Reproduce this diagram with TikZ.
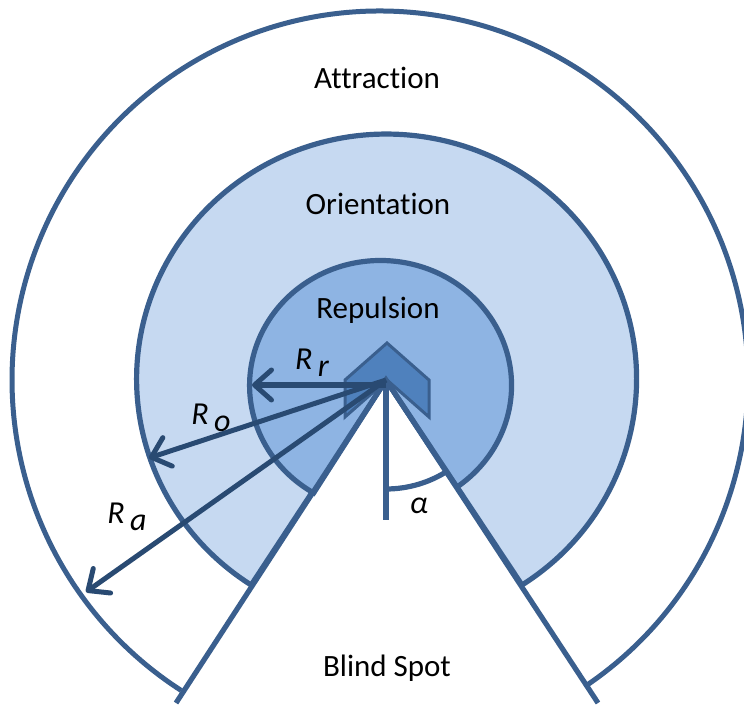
\documentclass[tikz,border=0pt]{standalone}
\usepackage{fontspec}
\setmainfont{Carlito}[Ligatures=NoCommon]
\usetikzlibrary{arrows.meta,calc}
\definecolor{edge}{HTML}{3A5F8E}
\definecolor{dark}{HTML}{294A72}
\definecolor{light}{HTML}{C6D9F1}
\definecolor{mid}{HTML}{8EB4E3}
\definecolor{agent}{HTML}{4F81BD}
\tikzset{
  x=1pt,y=1pt,
  zone/.style={draw=edge,line width=5.2pt},
  ring/.style={draw=edge,line width=5pt},
  radius arrow/.style={draw=dark,line width=5pt,-{Straight Barb[length=17pt,width=30pt,line width=5pt,round]}},
  lab/.style={font=\fontsize{31}{35}\selectfont,text=black,inner sep=0pt},
  sym/.style={font=\fontsize{32}{36}\selectfont\itshape,text=black,inner sep=0pt},
}
\newcommand{\subgap}[2]{#1\,\raisebox{-7pt}{#2}}
\begin{document}
\begin{tikzpicture}
\useasboundingbox (0,0) rectangle (744,705);
\clip (0,0) rectangle (744,705);
\coordinate (c) at (386,325);
% outer ring
\draw[ring] (380,325) ++(-55.7:368 and 369) arc[start angle=-55.7,end angle=237.3,x radius=368,y radius=369];
% orientation sector
\filldraw[zone,fill=light] (c) -- (522,120) arc[start angle=-57.2,end angle=237.2,x radius=250,y radius=245] -- cycle;
% repulsion sector
\filldraw[zone,fill=mid] (c) -- (457,218) arc[start angle=-54.3,end angle=239.3,x radius=131,y radius=125] -- cycle;
% agent chevron
\filldraw[draw=edge,line width=3pt,fill=agent,line join=miter]
  (387,362) -- (429,325) -- (429,288) -- (387,325) -- (345,288) -- (345,325) -- cycle;
% blind spot boundaries
\coordinate (bl) at (176,2);
\coordinate (br) at (598,2);
\draw[zone] (bl) -- (c) -- (br);
% angle marker
\coordinate (vt) at (386,185);
\draw[zone] (c) -- (vt);
\draw[zone] (386,216) arc[start angle=-90,end angle=-57,radius=114];
% radii
\coordinate (cr) at (386,320);
\coordinate (rr) at (252,320);
\coordinate (ro) at (149,247);
\coordinate (ra) at (86,113);
\draw[radius arrow] (cr) -- (rr);
\draw[radius arrow] (c) -- (ro);
\draw[radius arrow] (c) -- (ra);
% labels
\node[lab] (attr) at (377,627) {Attraction};
\node[lab] (orie) at (378,501) {Orientation};
\node[lab] (repu) at (378,395) {Repulsion};
\node[lab] (blind) at (387,37) {Blind Spot};
\node[sym] (lr) at (312,342) {\subgap{R}{r}};
\node[sym] (lo) at (211,287) {\subgap{R}{o}};
\node[sym] (la) at (127,188) {\subgap{R}{a}};
\node[sym] (lalpha) at (419,199) {α};
\end{tikzpicture}
\end{document}
